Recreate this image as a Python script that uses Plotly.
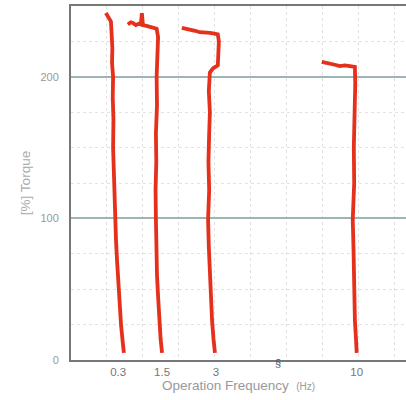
import plotly.graph_objects as go

# Curves (x in axis position units, y = torque %)
x03 = [0.97, 1.03, 1.11, 1.13, 1.15, 1.14, 1.17, 1.16, 1.18, 1.17, 1.19, 1.20, 1.22, 1.25, 1.28, 1.31, 1.35, 1.39, 1.44, 1.47]
y03 = [245, 242, 239, 230, 220, 210, 200, 185, 170, 150, 130, 115, 99, 85, 70, 55, 40, 25, 12, 5]

x15 = [1.58, 1.66, 1.72, 1.80, 1.88, 1.94, 1.97, 2.00, 2.10, 2.19, 2.30, 2.38, 2.42, 2.40, 2.38, 2.39, 2.36, 2.37, 2.35, 2.36, 2.37, 2.39, 2.42, 2.45, 2.49, 2.53]
y15 = [237, 238.5, 238, 236.5, 237.5, 237, 245, 236.5, 236, 235.5, 235, 234, 228, 215, 200, 180, 160, 140, 120, 99, 80, 60, 45, 30, 15, 5]

x3 = [3.08, 3.20, 3.31, 3.45, 3.58, 3.72, 3.86, 3.98, 4.08, 4.11, 4.09, 4.08, 3.95, 3.86, 3.83, 3.86, 3.84, 3.82, 3.84, 3.81, 3.83, 3.86, 3.88, 3.92, 3.96, 4.00]
y3 = [234.5, 234, 233, 232.5, 231.5, 231.5, 231, 230.5, 230, 225, 218, 208, 206, 203, 190, 175, 160, 140, 120, 99, 80, 56, 40, 28, 15, 5]

x10 = [6.97, 7.08, 7.19, 7.33, 7.47, 7.61, 7.75, 7.89, 7.90, 7.88, 7.86, 7.87, 7.83, 7.85, 7.86, 7.88, 7.89, 7.92, 7.94]
y10 = [210.5, 210, 209, 208.5, 207.5, 208, 207.5, 207, 195, 175, 150, 125, 99, 80, 56, 40, 28, 15, 5]

tick_pos = [1.31, 2.53, 4.03, 7.94]
tick_text = ["0.3", "1.5", "3", "10"]
y_ticks = [0, 100, 200]

RED = "#e5301c"
fig = go.Figure()
for xs, ys in [(x03, y03), (x15, y15), (x3, y3), (x10, y10)]:
    fig.add_trace(go.Scatter(x=xs, y=ys, mode="lines",
                             line=dict(color=RED, width=3.8, shape="linear"),
                             hoverinfo="skip", showlegend=False))

fig.add_annotation(x=5.75, y=0, xref="x", yref="y", text="§", showarrow=False,
                   font=dict(size=11, color="#555"), yshift=-3)

fig.update_layout(
    width=406, height=400,
    margin=dict(l=71, r=0, t=6, b=40),
    paper_bgcolor="white", plot_bgcolor="white",
    font=dict(family="Liberation Sans, Arial, sans-serif", color="#888", size=11),
    xaxis=dict(range=[0, 9.31], tickmode="array", tickvals=tick_pos, ticktext=tick_text,
               showgrid=False, zeroline=False, showline=True, linecolor="#777", linewidth=2,
               mirror=True, ticks="", tickfont=dict(size=11.5, color="#777"),
               minor=dict(tickmode="linear", tick0=0, dtick=1, showgrid=True,
                          gridcolor="#e2e2e2", griddash="dot", gridwidth=1, ticks=""),
               title=dict(text="Operation Frequency  <span style='font-size:10px'>(Hz)</span>",
                          font=dict(size=13.5, color="#999"), standoff=3),
               automargin=False),
    yaxis=dict(range=[0, 250], tickmode="array", tickvals=y_ticks,
               showgrid=True, gridcolor="#9fb4b4", gridwidth=1.5, zeroline=False,
               showline=True, linecolor="#777", linewidth=2, ticks="",
               tickfont=dict(size=11, color="#999"), ticklabelstandoff=8,
               minor=dict(tickmode="linear", tick0=0, dtick=25, showgrid=True,
                          gridcolor="#e2e2e2", griddash="dot", gridwidth=1, ticks=""),
               title=dict(text="[%] Torque", font=dict(size=13.5, color="#aaa"), standoff=7),
               automargin=False),
)

fig.write_html("out.html")
